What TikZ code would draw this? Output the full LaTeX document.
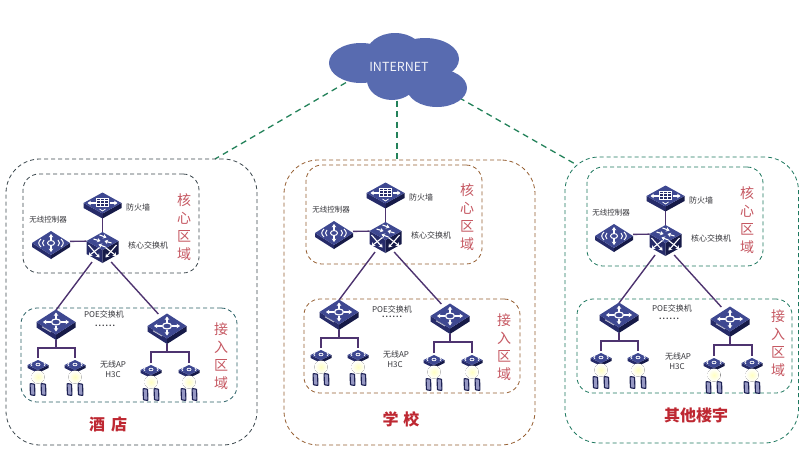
\documentclass[tikz,border=0pt]{standalone}
\usepackage{fontspec}
\setmainfont{Noto Sans CJK SC}
\usetikzlibrary{shapes.geometric,arrows.meta}
\definecolor{cloudblue}{RGB}{88,107,176}
\definecolor{linkgreen}{RGB}{35,130,90}
\definecolor{wire}{RGB}{78,52,112}
\definecolor{navytop}{RGB}{62,72,145}
\definecolor{navyleft}{RGB}{38,43,105}
\definecolor{navyright}{RGB}{22,26,72}
\definecolor{screenblue}{RGB}{150,152,195}
\definecolor{labelgrey}{RGB}{55,55,60}
\definecolor{zonered}{RGB}{198,88,98}
\definecolor{titlered}{RGB}{190,40,50}
\definecolor{edgegrey}{RGB}{60,72,78}
\definecolor{edgebrown}{RGB}{150,95,50}
\definecolor{edgeteal}{RGB}{30,120,95}
\definecolor{edgedark}{RGB}{40,95,100}
\tikzset{
  zone/.style={draw=#1,dash pattern=on 4pt off 3pt,line width=.8pt,inner sep=0pt,outer sep=0pt},
  slot/.style={inner sep=0pt,outer sep=0pt},
  uplink/.style={draw=linkgreen,line width=1.3pt,dash pattern=on 6pt off 4.5pt},
  wirelink/.style={draw=wire,line width=1.4pt},
  devlabel/.style={text=labelgrey,font=\fontsize{8}{10}\selectfont,inner sep=0pt},
  dotlabel/.style={text=labelgrey,font=\fontsize{7}{7}\selectfont\bfseries\addfontfeature{LetterSpace=15},inner sep=0pt},
  zonelabel/.style={text=zonered,font=\fontsize{14}{18}\selectfont,align=center,inner sep=0pt},
  sitelabel/.style={text=titlered,font=\fontsize{16}{18}\selectfont\bfseries,inner sep=0pt},
  lobe/.style={ellipse,fill=cloudblue,inner sep=0pt,outer sep=0pt},
  glyph/.style={draw=white,line width=1pt},
  fineglyph/.style={draw=white,line width=.5pt},
  arrowglyph/.style={draw=white,line width=1.1pt,-{Stealth[length=3.4pt,width=4.6pt]}},
}

% Flat appliance body: top rhombus with half sizes #1, #2 and front thickness #3
\newcommand{\slabbody}[3]{%
  \fill[navyleft] (-#1,0) -- (0,#2) -- (0,#2+#3) -- (-#1,#3) -- cycle;
  \fill[navyright] (#1,0) -- (0,#2) -- (0,#2+#3) -- (#1,#3) -- cycle;
  \fill[navytop] (-#1,0) -- (0,-#2) -- (#1,0) -- (0,#2) -- cycle;
}
% PoE switch: four arrows around a ring
\newcommand{\poeicon}[1]{%
  \begin{scope}[shift={(#1.center)},yshift=3pt]
    \slabbody{19.5}{12.5}{5.5}
    \draw[arrowglyph] (-5,0) -- (-13,0);
    \draw[arrowglyph] (5,0) -- (13,0);
    \draw[arrowglyph] (0,-3.5) -- (0,-9.5);
    \draw[arrowglyph] (0,3.5) -- (0,9.5);
    \draw[glyph,line width=1.2pt] (0,0) ellipse (4.5 and 3);
    \draw[draw=white!70!navyleft,line width=.9pt] (-14,4.8) -- (-5,10);
  \end{scope}}
% Firewall: boxed grid with side arrows
\newcommand{\firewallicon}[1]{%
  \begin{scope}[shift={(#1.center)},yshift=2pt]
    \slabbody{19}{10.5}{5}
    \draw[arrowglyph] (-7,0) -- (-15,0);
    \draw[arrowglyph] (7,0) -- (15,0);
    \draw[glyph,line width=.7pt,fill=navyleft] (-6,-5) rectangle (6,3);
    \draw[fineglyph] (-6,-2.4) -- (6,-2.4) (-6,.2) -- (6,.2) (-2,-5) -- (-2,3) (2,-5) -- (2,3);
    \draw[glyph,line width=.8pt] (-3,6) -- (0,8) -- (3,6);
  \end{scope}}
% Wireless controller: ring, cross and radio waves
\newcommand{\controllericon}[1]{%
  \begin{scope}[shift={(#1.center)}]
    \slabbody{19}{12}{4}
    \draw[glyph] (0,0) ellipse (3.5 and 2.5);
    \draw[arrowglyph] (0,-3) -- (0,-9);
    \draw[arrowglyph] (0,3) -- (0,9);
    \draw[glyph] (-7,-3) .. controls (-9,-1) and (-9,1) .. (-7,3);
    \draw[glyph] (-10,-4) .. controls (-13,-1) and (-13,1) .. (-10,4);
    \draw[glyph] (7,-3) .. controls (9,-1) and (9,1) .. (7,3);
    \draw[glyph] (10,-4) .. controls (13,-1) and (13,1) .. (10,4);
  \end{scope}}
% Core switch: cube with arrow crosses on each face
\newcommand{\coreicon}[1]{%
  \begin{scope}[shift={(#1.center)}]
    \fill[navyleft] (-16,-6) -- (0,3) -- (0,16) -- (-16,7) -- cycle;
    \fill[navyright] (16,-6) -- (0,3) -- (0,16) -- (16,7) -- cycle;
    \fill[navytop] (-16,-6) -- (0,-15) -- (16,-6) -- (0,3) -- cycle;
    \draw[arrowglyph] (-9,-8) -- (-2,-6);
    \draw[arrowglyph] (-3,-12) -- (4,-9.5);
    \draw[arrowglyph] (9,-4) -- (2,-6);
    \draw[arrowglyph] (3,0) -- (-4,-2.5);
    \draw[arrowglyph] (-14,-2) -- (-3,10.5);
    \draw[arrowglyph] (-3,.5) -- (-14,9);
    \draw[arrowglyph] (14,-2) -- (3,10.5);
    \draw[arrowglyph] (3,.5) -- (14,9);
  \end{scope}}
% Access point: small slab with a ring, its glow and two client tablets
\newcommand{\apicon}[1]{%
  \begin{scope}[shift={(#1.center)}]
    \slabbody{10.5}{5}{3}
    \draw[fineglyph,line width=.7pt] (0,-.5) ellipse (2 and 1.3);
    \draw[fineglyph,line width=.7pt] (-6,-2) .. controls (-7.5,-.5) .. (-6,1);
    \draw[fineglyph,line width=.7pt] (6,-2) .. controls (7.5,-.5) .. (6,1);
    \fill[inner color=yellow!24!white,outer color=white] (0,12) circle (6.5);
    \foreach \tx in {-5.5,5.5}{
      \draw[navyleft!80!black,line width=1.1pt,fill=screenblue,rounded corners=.6pt]
        (\tx-2.4,18.5) -- (\tx+2.1,19.2) -- (\tx+2.4,30.5) -- (\tx-2.1,29.8) -- cycle;
    }
  \end{scope}}

% One site: device slots, wiring, then the icons on top
\newcommand{\sitenet}[3]{%
  \begin{scope}[shift={(#2,#3)}]
    \node[slot,minimum width=38pt,minimum height=26pt] (#1fw) at (102.5,205) {};
    \node[slot,minimum width=38pt,minimum height=28pt] (#1ctl) at (51,243) {};
    \node[slot,minimum width=32pt,minimum height=30pt] (#1core) at (102.5,247) {};
    \node[slot,minimum width=38pt,minimum height=30pt] (#1poeA) at (56,325) {};
    \node[slot,minimum width=38pt,minimum height=30pt] (#1poeB) at (167,329) {};
    \node[slot,minimum width=20pt,minimum height=14pt] (#1apA) at (38,365) {};
    \node[slot,minimum width=20pt,minimum height=14pt] (#1apB) at (75,365) {};
    \node[slot,minimum width=20pt,minimum height=14pt] (#1apC) at (151,370) {};
    \node[slot,minimum width=20pt,minimum height=14pt] (#1apD) at (189,370) {};
    \coordinate (#1busA) at (56,348);
    \coordinate (#1busB) at (167,352);
  \end{scope}
  \draw[wirelink] (#1fw.center) -- (#1core.center);
  \draw[wirelink] (#1ctl.5) -- (#1core.160);
  \draw[wirelink] (#1core.-125) -- (#1poeA.north);
  \draw[wirelink] (#1core.-60) -- (#1poeB.120);
  \draw[wirelink] (#1poeA.south) -- (#1busA);
  \draw[wirelink] (#1apA.north) |- (#1busA) -| (#1apB.north);
  \draw[wirelink] (#1poeB.south) -- (#1busB);
  \draw[wirelink] (#1apC.north) |- (#1busB) -| (#1apD.north);
  \firewallicon{#1fw}
  \controllericon{#1ctl}
  \coreicon{#1core}
  \poeicon{#1poeA}
  \poeicon{#1poeB}
  \apicon{#1apA}
  \apicon{#1apB}
  \apicon{#1apC}
  \apicon{#1apD}
  \begin{scope}[shift={(#2,#3)}]
    \node[devlabel] (#1fwtxt) at (138,207) {防火墙};
    \node[devlabel,font=\fontsize{7.5}{9}\selectfont] (#1ctltxt) at (48,220) {无线控制器};
    \node[devlabel] (#1coretxt) at (148,245) {核心交换机};
    \node[zonelabel] (#1coretag) at (184,227) {核\\心\\区\\域};
  \end{scope}}

% Dashed zone drawn as a node from its corner values
\newcommand{\zonebox}[7]{%
  \node[zone=#6,rounded corners=#7pt,minimum width={(#4-#2)*1pt},minimum height={(#5-#3)*1pt}]
    (#1) at ({(#2+#4)/2},{(#3+#5)/2}) {};}

\begin{document}
\begin{tikzpicture}[x=1pt,y=-1pt]
  \useasboundingbox[fill=white] (0,0) rectangle (800,450);

  % Uplinks run under the cloud
  \coordinate (cloudL) at (355,77.3);
  \coordinate (cloudM) at (397,90);
  \coordinate (cloudR) at (450,92.5);
  \coordinate (endL) at (215,159);
  \coordinate (endM) at (397,159);
  \coordinate (endR) at (577,165);
  \draw[uplink] (cloudL) -- (endL);
  \draw[uplink] (cloudM) -- (endM);
  \draw[uplink] (cloudR) -- (endR);

  % Cloud built from overlapping lobes
  \node[lobe,minimum width=64pt,minimum height=40pt] (lobeA) at (361,63) {};
  \node[lobe,minimum width=58pt,minimum height=44pt] (lobeB) at (395,55) {};
  \node[lobe,minimum width=68pt,minimum height=42pt] (lobeC) at (425,59) {};
  \node[lobe,minimum width=50pt,minimum height=40pt] (lobeD) at (392,80) {};
  \node[lobe,minimum width=50pt,minimum height=30pt] (lobeE) at (410,72) {};
  \node[lobe,minimum width=60pt,minimum height=38pt] (lobeF) at (437,88) {};
  \node[text=white!92!cloudblue,font=\fontsize{12.5}{14}\selectfont,inner sep=0pt] (cloudtxt) at (399,67) {INTERNET};

  % Site outlines
  \zonebox{outerA}{6}{159}{257}{445}{edgegrey}{34}
  \zonebox{coreA}{23}{174}{199}{273}{edgegrey}{16}
  \zonebox{accA}{21}{308}{237}{402}{edgedark}{16}
  \zonebox{outerB}{284}{160}{535}{445}{edgebrown}{34}
  \zonebox{coreB}{306}{165}{482}{264}{edgebrown}{16}
  \zonebox{accB}{304}{299}{520}{393}{edgebrown}{16}
  \zonebox{outerC}{565}{157}{798.5}{443}{edgeteal}{34}
  \zonebox{coreC}{587}{167}{763}{266}{edgeteal}{16}
  \zonebox{accC}{577}{299}{792}{393}{edgeteal}{16}

  % Sites
  \sitenet{a}{0}{0}
  \sitenet{b}{283}{-10}
  \sitenet{c}{563}{-7}

  % Hotel labels
  \node[devlabel] (aPoe) at (104,314) {POE交换机};
  \node[dotlabel] (aDots) at (105,326) {......};
  \node[devlabel] (aAp) at (113,364) {无线AP};
  \node[devlabel] (aVendor) at (113,375) {H3C};
  \node[zonelabel] (aTag) at (221,356) {接\\入\\区\\域};
  \node[sitelabel] (aSite) at (108,424) {酒\hspace{6pt}店};

  % School labels
  \node[devlabel] (bPoe) at (392,309) {POE交换机};
  \node[dotlabel] (bDots) at (392,317) {......};
  \node[devlabel] (bAp) at (396,354) {无线AP};
  \node[devlabel] (bVendor) at (395,365) {H3C};
  \node[zonelabel] (bTag) at (504,347) {接\\入\\区\\域};
  \node[sitelabel] (bSite) at (401,419) {学\hspace{5pt}校};

  % Other-building labels
  \node[devlabel] (cPoe) at (672,308) {POE交换机};
  \node[dotlabel] (cDots) at (669,319) {......};
  \node[devlabel] (cAp) at (678,356) {无线AP};
  \node[devlabel] (cVendor) at (677,367) {H3C};
  \node[zonelabel] (cTag) at (778,343) {接\\入\\区\\域};
  \node[sitelabel] (cSite) at (696,415) {其他楼宇};
\end{tikzpicture}
\end{document}
